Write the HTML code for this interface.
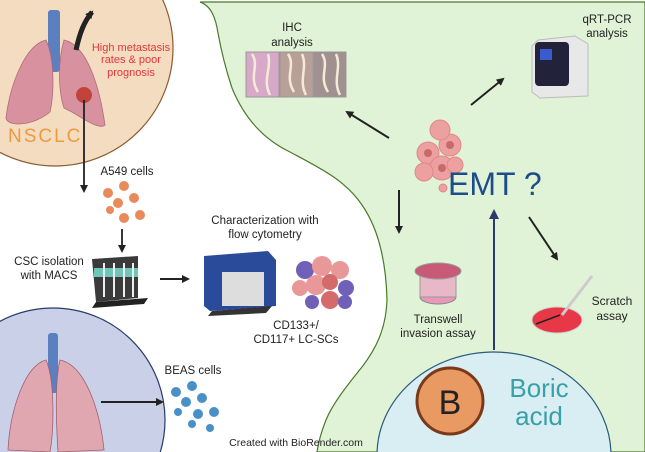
<!DOCTYPE html>
<html><head><meta charset="utf-8"><style>
html,body{margin:0;padding:0;background:#fff;overflow:hidden;}
svg{display:block;font-family:"Liberation Sans",sans-serif;}
</style></head><body>
<svg width="645" height="452" viewBox="0 0 645 452" xmlns="http://www.w3.org/2000/svg">
<defs>
<marker id="ah" markerWidth="8" markerHeight="8" refX="6" refY="4" orient="auto" markerUnits="userSpaceOnUse"><path d="M0,0 L8,4 L0,8 z" fill="#222"/></marker>
<marker id="ahb" markerWidth="10" markerHeight="10" refX="7" refY="5" orient="auto" markerUnits="userSpaceOnUse"><path d="M0,0 L10,5 L0,10 z" fill="#2b3a6b"/></marker>
</defs>
<rect width="645" height="452" fill="#fff"/>
<!-- green region -->
<path d="M200,2 C212,6 216,20 218,33 C222,55 226,70 232,88 C245,120 265,140 290,152 C320,168 345,180 362,205 C378,228 386,260 387,300 C386,330 375,350 362,367 C345,388 332,405 326,420 C320,435 318,445 317,452 L645,452 L645,2 Z" fill="#e0f3d6" stroke="#4a7a2a" stroke-width="1.2"/>
<!-- NSCLC circle -->
<circle cx="55" cy="48" r="118" fill="#f3dcc0" stroke="#8a5a30" stroke-width="1.2"/>
<rect x="48" y="10" width="12" height="62" rx="3" fill="#5b7fbf"/>
<path d="M46,40 C25,45 10,85 6,118 C8,128 35,125 50,112 C54,95 55,60 46,40Z" fill="#d7919f" stroke="#b06a7a" stroke-width="0.8"/>
<path d="M64,40 C88,45 100,90 105,125 C100,130 85,120 72,112 L64,108 C58,90 58,60 64,40Z" fill="#d7919f" stroke="#b06a7a" stroke-width="0.8"/>
<circle cx="84" cy="95" r="8" fill="#c0443a"/>
<path d="M76,50 C80,32 84,22 92,12" stroke="#222" stroke-width="5" fill="none" marker-end="url(#ah)"/>
<text x="131" y="51" fill="#e8333a" font-size="11" text-anchor="middle">High metastasis</text>
<text x="131" y="63" fill="#e8333a" font-size="11" text-anchor="middle">rates &amp; poor</text>
<text x="131" y="76" fill="#e8333a" font-size="11" text-anchor="middle">prognosis</text>
<text x="8" y="142" fill="#f09a40" font-size="19" letter-spacing="2">NSCLC</text>
<line x1="84" y1="100" x2="84" y2="191" stroke="#222" stroke-width="1.8" marker-end="url(#ah)"/>
<text x="127" y="175" font-size="11.5" text-anchor="middle" fill="#222">A549 cells</text>
<g fill="#e88a5a"><circle cx="108" cy="193" r="5"/><circle cx="124" cy="186" r="5"/><circle cx="118" cy="203" r="5"/><circle cx="134" cy="198" r="5"/><circle cx="140" cy="215" r="5"/><circle cx="124" cy="218" r="5"/><circle cx="110" cy="210" r="4"/></g>
<line x1="122" y1="229" x2="122" y2="251" stroke="#222" stroke-width="1.8" marker-end="url(#ah)"/>
<text x="49" y="265" font-size="11.5" text-anchor="middle" fill="#222">CSC isolation</text>
<text x="49" y="279" font-size="11.5" text-anchor="middle" fill="#222">with MACS</text>
<path d="M92,259 L138,256 L138,298 L96,302 Z" fill="#3a3a3a"/>
<rect x="94" y="268" width="44" height="9" fill="#6fc6b8"/>
<g stroke="#eee" stroke-width="2"><line x1="104" y1="263" x2="104" y2="297"/><line x1="114" y1="263" x2="114" y2="297"/><line x1="124" y1="263" x2="124" y2="297"/><line x1="133" y1="263" x2="133" y2="297"/></g>
<path d="M96,302 L148,298 L144,304 L92,308Z" fill="#222"/>
<line x1="160" y1="279" x2="188" y2="279" stroke="#222" stroke-width="2" marker-end="url(#ah)"/>
<text x="265" y="224" font-size="11.5" text-anchor="middle" fill="#222">Characterization with</text>
<text x="265" y="238" font-size="11.5" text-anchor="middle" fill="#222">flow cytometry</text>
<path d="M204,256 L268,251 L276,260 L276,306 L210,311 L204,306 Z" fill="#2a4a9a"/>
<rect x="222" y="272" width="42" height="34" fill="#ddd"/>
<path d="M212,311 L272,306 L266,313 L208,316Z" fill="#333"/>
<g><circle cx="305" cy="270" r="9" fill="#7060b8"/><circle cx="322" cy="266" r="10" fill="#e89898"/><circle cx="316" cy="285" r="10" fill="#e89898"/><circle cx="340" cy="270" r="9" fill="#e89898"/><circle cx="346" cy="288" r="8" fill="#7060b8"/><circle cx="300" cy="288" r="8" fill="#e89898"/><circle cx="330" cy="300" r="9" fill="#d46a6a"/><circle cx="345" cy="302" r="7" fill="#7060b8"/><circle cx="312" cy="302" r="7" fill="#7060b8"/><circle cx="330" cy="282" r="8" fill="#d46a6a"/></g>
<text x="296" y="329" font-size="11.5" text-anchor="middle" fill="#222">CD133+/</text>
<text x="296" y="343" font-size="11.5" text-anchor="middle" fill="#222">CD117+ LC-SCs</text>
<!-- BEAS circle -->
<circle cx="53" cy="420" r="112" fill="#c9d0e8" stroke="#2a3a6a" stroke-width="1.2"/>
<rect x="48" y="333" width="10" height="60" rx="3" fill="#5b7fbf"/>
<path d="M46,360 C25,365 10,410 8,450 L50,452 C54,430 55,380 46,360Z" fill="#e0a7b0" stroke="#a06070" stroke-width="0.8"/>
<path d="M60,360 C85,365 100,410 104,450 L58,452 C56,420 55,380 60,360Z" fill="#e0a7b0" stroke="#a06070" stroke-width="0.8"/>
<line x1="101" y1="402" x2="162" y2="402" stroke="#222" stroke-width="2" marker-end="url(#ah)"/>
<text x="193" y="374" font-size="11.5" text-anchor="middle" fill="#222">BEAS cells</text>
<g fill="#4a90c8"><circle cx="176" cy="392" r="5"/><circle cx="192" cy="386" r="5"/><circle cx="186" cy="402" r="5"/><circle cx="202" cy="398" r="5"/><circle cx="198" cy="414" r="5"/><circle cx="214" cy="412" r="5"/><circle cx="178" cy="412" r="4"/><circle cx="210" cy="428" r="4"/><circle cx="192" cy="424" r="4"/></g>
<text x="296" y="446" font-size="10.5" text-anchor="middle" fill="#222">Created with BioRender.com</text>
<!-- right side -->
<text x="292" y="31" font-size="11.5" text-anchor="middle" fill="#222">IHC</text>
<text x="292" y="46" font-size="11.5" text-anchor="middle" fill="#222">analysis</text>
<rect x="246" y="52" width="33" height="45" fill="#d8a8c8" stroke="#999"/>
<rect x="280" y="52" width="33" height="45" fill="#b8a098" stroke="#999"/>
<rect x="314" y="52" width="32" height="45" fill="#a09090" stroke="#999"/>
<g stroke="#f4ead8" stroke-width="2.5" fill="none"><path d="M252,54 C260,66 248,76 258,92"/><path d="M268,54 C272,68 262,80 270,95"/><path d="M288,54 C296,66 284,76 294,92"/><path d="M302,54 C308,68 298,80 306,95"/><path d="M322,54 C330,66 318,76 328,92"/><path d="M336,54 C342,68 332,80 340,95"/></g>
<text x="607" y="23" font-size="11.5" text-anchor="middle" fill="#222">qRT-PCR</text>
<text x="607" y="37" font-size="11.5" text-anchor="middle" fill="#222">analysis</text>
<path d="M538,40 L575,36 L588,44 L588,96 L540,98 L532,92 L532,46Z" fill="#e8e8e8" stroke="#bbb"/>
<rect x="535" y="42" width="34" height="44" rx="4" fill="#22223a"/>
<rect x="540" y="49" width="12" height="11" fill="#3a5ad0"/>
<line x1="471" y1="105" x2="503" y2="79" stroke="#222" stroke-width="2" marker-end="url(#ah)"/>
<line x1="389" y1="138" x2="347" y2="112" stroke="#222" stroke-width="2" marker-end="url(#ah)"/>
<g fill="#eca0a0" stroke="#e08888"><circle cx="428" cy="153" r="11"/><circle cx="450" cy="145" r="11"/><circle cx="442" cy="168" r="12"/><circle cx="440" cy="130" r="10"/><circle cx="424" cy="172" r="9"/><circle cx="455" cy="165" r="8"/><circle cx="443" cy="188" r="4"/></g>
<g fill="#c86a6a"><circle cx="428" cy="153" r="4"/><circle cx="450" cy="145" r="4"/><circle cx="442" cy="168" r="4"/></g>
<text x="448" y="195" font-size="32" fill="#1d4e89">EMT ?</text>
<line x1="399" y1="190" x2="399" y2="232" stroke="#222" stroke-width="2" marker-end="url(#ah)"/>
<line x1="529" y1="217" x2="557" y2="259" stroke="#222" stroke-width="2" marker-end="url(#ah)"/>
<line x1="494" y1="350" x2="494" y2="212" stroke="#2b3a6b" stroke-width="2" marker-end="url(#ahb)"/>
<ellipse cx="438" cy="297" rx="18" ry="7" fill="#e898b8" stroke="#888"/>
<rect x="420" y="274" width="36" height="23" fill="#e8b8c8" stroke="#999"/>
<ellipse cx="438" cy="271" rx="23" ry="8" fill="#c85a78" stroke="#999"/>
<text x="438" y="323" font-size="11.5" text-anchor="middle" fill="#222">Transwell</text>
<text x="438" y="337" font-size="11.5" text-anchor="middle" fill="#222">invasion assay</text>
<ellipse cx="557" cy="320" rx="25" ry="13" fill="#e83848" stroke="#ccc"/>
<line x1="536" y1="324" x2="560" y2="315" stroke="#222" stroke-width="1.5"/>
<line x1="562" y1="315" x2="592" y2="276" stroke="#ccc" stroke-width="3"/>
<text x="612" y="305" font-size="12" text-anchor="middle" fill="#222">Scratch</text>
<text x="612" y="320" font-size="12" text-anchor="middle" fill="#222">assay</text>
<ellipse cx="494" cy="455" rx="117" ry="103" fill="#d8eef3" stroke="#2a5a7a" stroke-width="1.2"/>
<ellipse cx="450" cy="401" rx="33" ry="33" fill="#e89a62" stroke="#7a3a1a" stroke-width="3"/>
<text x="450" y="414" font-size="34" text-anchor="middle" fill="#222">B</text>
<text x="539" y="397" font-size="26" text-anchor="middle" fill="#3aa0a8">Boric</text>
<text x="539" y="425" font-size="26" text-anchor="middle" fill="#3aa0a8">acid</text>
</svg>
</body></html>
